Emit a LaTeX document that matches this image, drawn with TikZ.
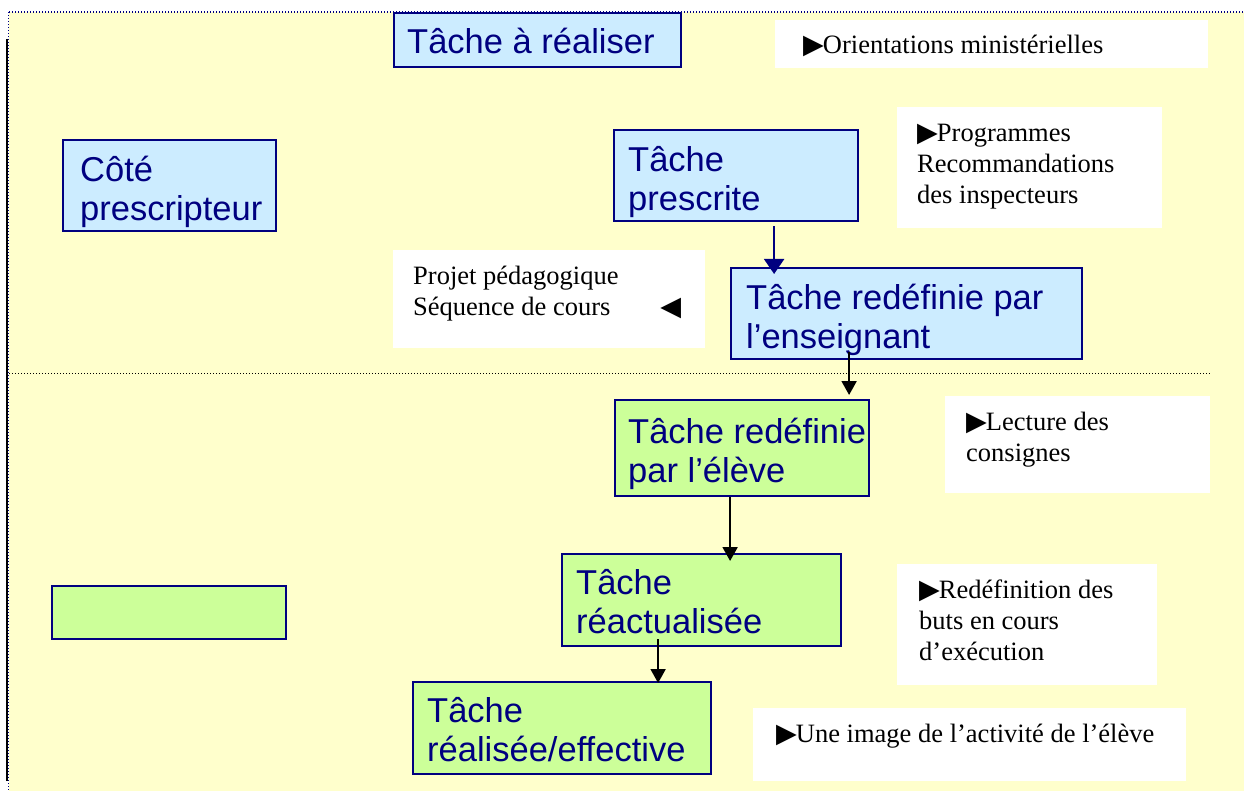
\documentclass[tikz,border=0pt]{standalone}
\usepackage{fontspec}
\setmainfont{Liberation Serif}
\newfontfamily\arialf{Liberation Sans}
\newfontfamily\symf{DejaVu Sans}
\usetikzlibrary{arrows.meta,calc}
\definecolor{navy}{HTML}{000080}
\definecolor{bluefill}{HTML}{CCECFF}
\definecolor{greenfill}{HTML}{CCFF99}
\definecolor{bgyellow}{HTML}{FFFFCC}
\newcommand\tri{\smash{\symf\fontsize{27}{27}\selectfont ▶}\kern-1pt}
\newcommand\ltri{\smash{\symf\fontsize{27}{27}\selectfont ◀}}
\newcommand\fls{\rule{0pt}{30pt}}
\newcommand\flt{\rule{0pt}{24pt}}
\begin{document}
\begin{tikzpicture}[x=1pt,y=-1pt,
  box/.style={draw=navy, line width=2.2pt, anchor=north west, inner sep=0pt},
  bluebox/.style={box, fill=bluefill},
  greenbox/.style={box, fill=greenfill},
  whitebox/.style={fill=white, anchor=north west, inner sep=0pt},
  boxtext/.style={anchor=north west, inner sep=0pt, align=left, text=navy, font=\arialf\fontsize{34.5}{39}\selectfont},
  notetext/.style={anchor=north west, inner sep=0pt, align=left, font=\fontsize{26.5}{31}\selectfont},
  arr/.style={line width=2pt, -{Triangle[width=15pt,length=14pt]}},
]
\useasboundingbox (0,0) rectangle (1244,791);
\fill[bgyellow] (9,12) rectangle (1244,791);
% frame lines
\draw[navy, line width=1.2pt, dash pattern=on 1.2pt off 1.8pt] (9,12) -- (1244,12);
\draw[navy, line width=1.2pt, dash pattern=on 1.2pt off 1.8pt] (8.5,12) -- (8.5,791);
\draw[black, line width=2pt] (6.5,39) -- (6.5,781);
\draw[black, line width=1pt, dash pattern=on 1pt off 2pt] (9,373) -- (1210,373);

% white note boxes
\node[whitebox, minimum width=433, minimum height=48] (wori) at (775,20) {};
\node[whitebox, minimum width=265, minimum height=121] (wprog) at (897,107) {};
\node[whitebox, minimum width=312, minimum height=98] (wproj) at (393,250) {};
\node[whitebox, minimum width=265, minimum height=97] (wlect) at (945,396) {};
\node[whitebox, minimum width=260, minimum height=121] (wredef) at (897,564) {};
\node[whitebox, minimum width=433, minimum height=73] (wimg) at (753,708) {};

\node[notetext] (tori) at (803,29) {\flt\tri Orientations ministérielles};
\node[notetext] (tprog) at (917,117) {\flt\tri Programmes\\Recommandations\\des inspecteurs};
\node[notetext] (tproj) at (413,260) {\flt Projet pédagogique\\\makebox[268pt][l]{Séquence de cours\hfill\ltri}};
\node[notetext] (tlect) at (966,406) {\flt\tri Lecture des\\consignes};
\node[notetext] (tredef) at (919,574) {\flt\tri Redéfinition des\\buts en cours\\d’exécution};
\node[notetext] (timg) at (776,718) {\flt\tri Une image de l’activité de l’élève};

% task boxes
\node[bluebox, minimum width=287, minimum height=54] (tar) at (393,12) {};
\node[bluebox, minimum width=213, minimum height=91] (cote) at (62,139) {};
\node[bluebox, minimum width=244, minimum height=91] (presc) at (613,129) {};
\node[bluebox, minimum width=351, minimum height=91] (ens) at (730,267) {};
\node[greenbox, minimum width=254, minimum height=96] (eleve) at (614,399) {};
\node[greenbox, minimum width=279, minimum height=92] (reac) at (561,553) {};
\node[greenbox, minimum width=298, minimum height=92] (real) at (412,681) {};
\node[greenbox, minimum width=234, minimum height=53] (empty) at (51,585) {};

\node[boxtext] (ttar) at (407,23) {\fls Tâche à réaliser};
\node[boxtext] (tcote) at (80,151) {\fls Côté\\prescripteur};
\node[boxtext] (tpresc) at (628,141) {\fls Tâche\\prescrite};
\node[boxtext] (tens) at (746,279) {\fls Tâche redéfinie par\\l’enseignant};
\node[boxtext] (televe) at (628,413) {\fls Tâche redéfinie\\par l’élève};
\node[boxtext] (treac) at (576,564) {\fls Tâche\\réactualisée};
\node[boxtext] (treal) at (427,692) {\fls Tâche\\réalisée/effective};

% arrows
\draw[arr, navy, -{Triangle[width=20pt,length=15pt]}] ($(presc.south)+(38,4)$) -- ($(presc.south |- ens.north)+(38,7)$);
\draw[arr] ($(ens.south)+(-57.5,-8)$) -- ($(ens.south |- eleve.north)+(-57.5,-4)$);
\draw[arr] ($(eleve.south)+(-12,0)$) -- ($(eleve.south |- reac.north)+(-12,8)$);
\draw[arr] ($(reac.south)+(-43.5,-8)$) -- ($(reac.south |- real.north)+(-43.5,2)$);
\end{tikzpicture}
\end{document}
